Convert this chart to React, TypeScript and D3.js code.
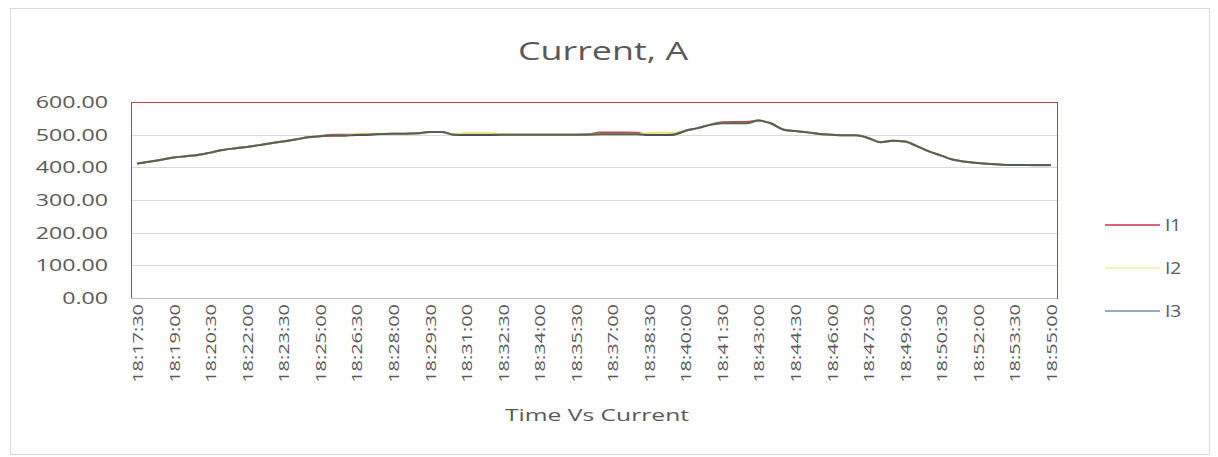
import { useEffect } from 'react';
import * as d3 from 'd3';

const times = [
  '18:17:30', '18:18:00', '18:18:30', '18:19:00', '18:19:30', '18:20:00', '18:20:30', '18:21:00',
  '18:21:30', '18:22:00', '18:22:30', '18:23:00', '18:23:30', '18:24:00', '18:24:30', '18:25:00',
  '18:25:30', '18:26:00', '18:26:30', '18:27:00', '18:27:30', '18:28:00', '18:28:30', '18:29:00',
  '18:29:30', '18:30:00', '18:30:30', '18:31:00', '18:31:30', '18:32:00', '18:32:30', '18:33:00',
  '18:33:30', '18:34:00', '18:34:30', '18:35:00', '18:35:30', '18:36:00', '18:36:30', '18:37:00',
  '18:37:30', '18:38:00', '18:38:30', '18:39:00', '18:39:30', '18:40:00', '18:40:30', '18:41:00',
  '18:41:30', '18:42:00', '18:42:30', '18:43:00', '18:43:30', '18:44:00', '18:44:30', '18:45:00',
  '18:45:30', '18:46:00', '18:46:30', '18:47:00', '18:47:30', '18:48:00', '18:48:30', '18:49:00',
  '18:49:30', '18:50:00', '18:50:30', '18:51:00', '18:51:30', '18:52:00', '18:52:30', '18:53:00',
  '18:53:30', '18:54:00', '18:54:30', '18:55:00',
];

const i1 = [
  412, 417, 423, 430, 434, 438, 445, 453, 458, 462,
  468, 474, 479, 485, 492, 495, 500, 500, 499, 500,
  502, 503, 503, 504, 508, 508, 500, 499, 499, 499,
  500, 500, 500, 500, 500, 500, 500, 501, 507, 507,
  507, 506, 499, 499, 500, 512, 520, 530, 538, 539,
  539, 543, 535, 516, 511, 507, 502, 500, 498, 498,
  490, 477, 481, 479, 465, 449, 436, 423, 417, 413,
  410, 408, 407, 407, 406, 406,
];

const i2 = [
  412, 417, 423, 430, 434, 438, 445, 453, 458, 462,
  468, 474, 479, 485, 492, 495, 497, 497, 503, 503,
  502, 503, 503, 504, 508, 508, 500, 505, 505, 505,
  500, 500, 500, 500, 500, 500, 500, 500, 501, 501,
  501, 501, 505, 506, 505, 512, 520, 530, 535, 535,
  535, 543, 535, 516, 511, 507, 502, 500, 498, 498,
  490, 477, 481, 479, 465, 449, 436, 423, 417, 413,
  410, 408, 407, 407, 407, 407,
];

const i3 = [
  412, 417, 423, 430, 434, 438, 445, 453, 458, 462,
  468, 474, 479, 485, 492, 495, 497, 497, 499, 500,
  502, 503, 503, 504, 508, 508, 500, 499, 499, 499,
  500, 500, 500, 500, 500, 500, 500, 500, 501, 501,
  501, 501, 499, 499, 500, 512, 520, 530, 535, 535,
  535, 543, 535, 516, 511, 507, 502, 500, 498, 498,
  490, 477, 481, 479, 465, 449, 436, 423, 417, 413,
  410, 408, 407, 407, 407, 407,
];

const seriesNames = ['I1', 'I2', 'I3'];
const seriesColors = ['#b02a3e', '#e6dc60', '#3b4f55'];
const legendColors = ['#c8344e', '#f4f29a', '#6f8fb0'];
const yTicks = [0, 100, 200, 300, 400, 500, 600];

const W = 1218;
const H = 457;
const plot = { left: 131, right: 1057, top: 102, bottom: 298 };
const textColor = '#595959';
const font = "'Open Sans', sans-serif";

const App = () => {
  useEffect(() => {
    document.body.style.margin = '0';
  }, []);

  const x = d3.scaleBand<string>().domain(times).range([plot.left, plot.right]).padding(0);
  const y = d3.scaleLinear().domain([0, 600]).range([plot.bottom, plot.top]);
  const cx = (t: string) => (x(t) ?? 0) + x.bandwidth() / 2;

  const line = d3.line<number>()
    .x((_, i) => cx(times[i]))
    .y(d => y(d))
    .curve(d3.curveMonotoneX);

  const allSeries = [i1, i2, i3];
  const tickLabels = times.filter((_, i) => i % 3 === 0);

  return (
    <svg width={W} height={H} style={{ display: 'block', background: '#fff' }}>
      <rect x={10.5} y={8.5} width={1199} height={446} fill="#fff" stroke="#d9d9d9" />

      <text x={0} y={0} textAnchor="middle" fill={textColor} fontFamily={font} fontSize={26}
        transform="translate(603,60) scale(1.38,1)">
        Current, A
      </text>

      {yTicks.map(t => (
        <line key={'g' + t} x1={plot.left} x2={plot.right} y1={Math.round(y(t)) + 0.5} y2={Math.round(y(t)) + 0.5}
          stroke="#d9d9d9" strokeWidth={1} />
      ))}

      <rect x={plot.left + 0.5} y={plot.top + 0.5} width={plot.right - plot.left} height={plot.bottom - plot.top}
        fill="none" stroke="#c0404a" strokeWidth={1} />
      <line x1={plot.left} x2={plot.right} y1={plot.bottom + 0.5} y2={plot.bottom + 0.5} stroke="#bfbfbf" />

      {yTicks.map(t => (
        <text key={'y' + t} x={0} y={0} textAnchor="end" fill={textColor} fontFamily={font} fontSize={16}
          transform={`translate(108,${y(t) + 6}) scale(1.45,1)`}>
          {d3.format('.2f')(t)}
        </text>
      ))}

      {tickLabels.map(t => (
        <text key={'x' + t} x={0} y={0} textAnchor="end" fill={textColor} fontFamily={font} fontSize={15}
          transform={`translate(${cx(t) + 6},304) rotate(-90) scale(1.33,1)`}>
          {t}
        </text>
      ))}

      <text x={0} y={0} textAnchor="middle" fill={textColor} fontFamily={font} fontSize={17}
        transform="translate(597,421) scale(1.45,1)">
        Time Vs Current
      </text>

      {allSeries.map((s, k) => (
        <path key={'s' + k} d={line(s) ?? ''} fill="none" stroke={seriesColors[k]}
          strokeWidth={2} strokeOpacity={0.85} strokeLinejoin="round" />
      ))}

      {seriesNames.map((n, k) => {
        const ly = 225 + k * 43;
        return (
          <g key={'l' + n}>
            <line x1={1105} x2={1160} y1={ly} y2={ly} stroke={legendColors[k]} strokeWidth={1.5} />
            <text x={0} y={0} fill={textColor} fontFamily={font} fontSize={16}
              transform={`translate(1165,${ly + 6}) scale(1.2,1)`}>
              {n}
            </text>
          </g>
        );
      })}
    </svg>
  );
};

export default App;
